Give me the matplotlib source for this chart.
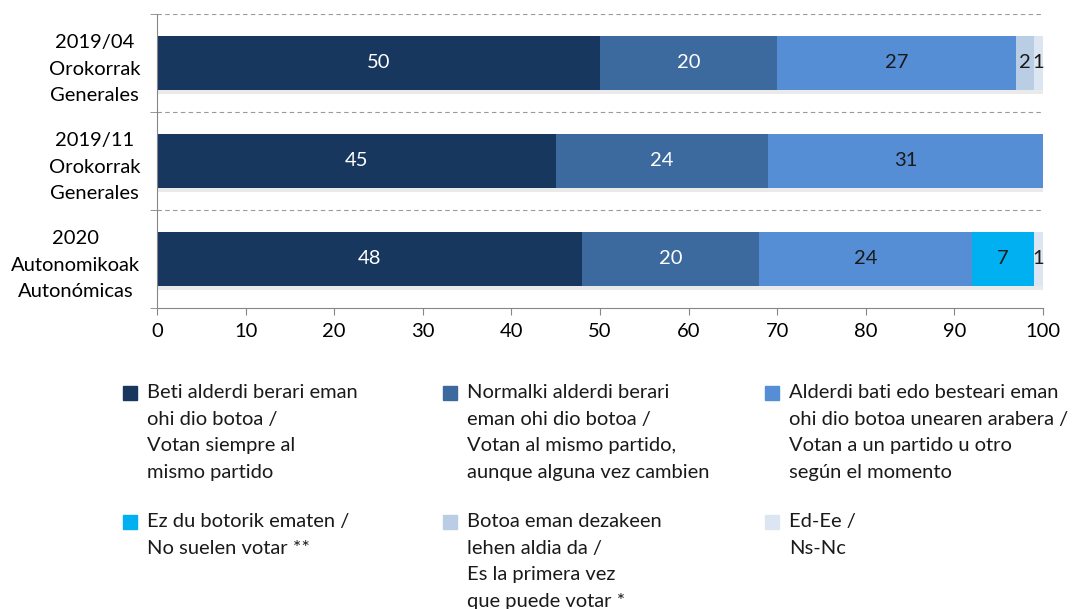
import matplotlib.pyplot as plt
import matplotlib.patheffects as pe
from matplotlib.patches import Rectangle

plt.rcParams['font.family'] = ['Lato', 'DejaVu Sans']

categories = ['2019/04\nOrokorrak\nGenerales',
              '2019/11\nOrokorrak\nGenerales',
              '2020\nAutonomikoak\nAutonómicas']

series_names = [
    'Beti alderdi berari eman\nohi dio botoa /\nVotan siempre al\nmismo partido',
    'Normalki alderdi berari\neman ohi dio botoa /\nVotan al mismo partido,\naunque alguna vez cambien',
    'Alderdi bati edo besteari eman\nohi dio botoa unearen arabera /\nVotan a un partido u otro\nsegún el momento',
    'Ez du botorik ematen /\nNo suelen votar **',
    'Botoa eman dezakeen\nlehen aldia da /\nEs la primera vez\nque puede votar *',
    'Ed-Ee /\nNs-Nc',
]

siempre = [50, 45, 48]
normalmente = [20, 24, 20]
segun_momento = [27, 31, 24]
no_votan = [0, 0, 7]
primera_vez = [2, 0, 0]
ns_nc = [1, 0, 1]

series_values = [siempre, normalmente, segun_momento, no_votan, primera_vez, ns_nc]
colors = ['#17375E', '#3D6A9E', '#558ED5', '#00B0F0', '#B9CDE5', '#DCE6F2']
label_colors = ['white', 'white', '#1a1a1a', '#1a1a1a', '#1a1a1a', '#1a1a1a']

fs = 14.5

fig = plt.figure(figsize=(10.72, 6.09), dpi=100)
ax = fig.add_axes([157 / 1072, 1 - 308 / 609, (1043 - 157) / 1072, (308 - 14) / 609])

y = list(range(len(categories)))
left = [0] * len(categories)
shadow = [pe.SimplePatchShadow(offset=(1, -2.5), alpha=0.15, shadow_rgbFace='#777777'), pe.Normal()]

for vals, col, lcol in zip(series_values, colors, label_colors):
    bars = ax.barh(y, vals, left=left, height=0.56, color=col, path_effects=shadow)
    for b, v, l in zip(bars, vals, left):
        if v > 0:
            ax.text(l + v / 2, b.get_y() + b.get_height() / 2, str(v),
                    ha='center', va='center', color=lcol, fontsize=fs)
    left = [a + b for a, b in zip(left, vals)]

ax.set_xlim(0, 100)
ax.set_ylim(2.5, -0.5)
ax.set_xticks(range(0, 101, 10))
ax.tick_params(axis='x', labelsize=fs, length=5, color='#868686', pad=6)
ax.set_yticks(y)
ax.set_yticklabels(categories, fontsize=fs, multialignment='center', linespacing=1.65)
ax.tick_params(axis='y', length=0, pad=12)
ax.set_yticks([-0.5, 0.5, 1.5, 2.5], minor=True)
ax.tick_params(axis='y', which='minor', length=5, color='#868686')
for yb in [-0.5, 0.5, 1.5]:
    ax.axhline(yb, color='#9a9a9a', linestyle=(0, (4, 3)), linewidth=0.8, zorder=0)

for s in ['top', 'right']:
    ax.spines[s].set_visible(False)
for s in ['left', 'bottom']:
    ax.spines[s].set_color('#868686')

# legend drawn by hand, 3 columns x 2 rows
col_x = [123, 443, 765]
row_y = [385, 514]
for i, (name, col) in enumerate(zip(series_names, colors)):
    px = col_x[i % 3]
    py = row_y[i // 3]
    fig.patches.append(Rectangle((px / 1072, 1 - (py + 15) / 609), 14 / 1072, 14 / 609,
                                 transform=fig.transFigure, color=col))
    fig.text((px + 24) / 1072, 1 - (py - 1) / 609, name, fontsize=fs, va='top', ha='left',
             color='#1a1a1a', linespacing=1.68)

fig.savefig('out.png', dpi=100)
